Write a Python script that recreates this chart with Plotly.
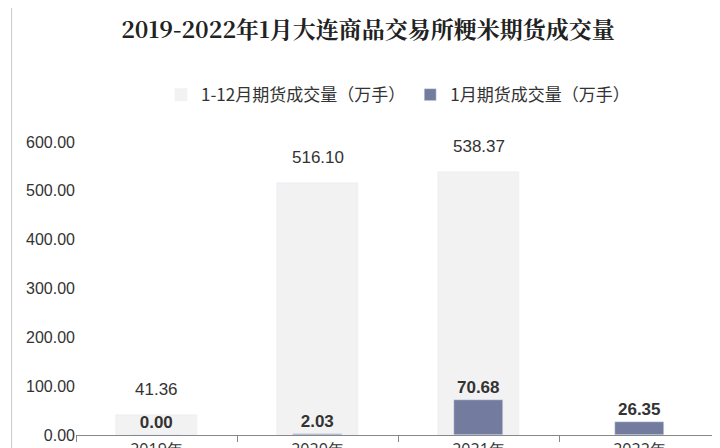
import plotly.graph_objects as go

cats = ["2019年", "2020年", "2021年", "2022年"]
total = [41.36, 516.10, 538.37, None]
jan = [0.00, 2.03, 70.68, 26.35]
total_lbl = ["41.36", "516.10", "538.37", ""]
jan_lbl = ["0.00", "2.03", "70.68", "26.35"]

numfont = "Liberation Sans Narrow, Arial"
fig = go.Figure()
fig.add_bar(x=cats, y=total, name="1-12月期货成交量（万手）", width=0.5,
            marker_color="#f2f2f2", cliponaxis=False)
fig.add_bar(x=cats, y=jan, name="1月期货成交量（万手）", width=0.3,
            marker_color="#737c9e", text=["<b>%s</b>" % t for t in jan_lbl],
            textposition="outside",
            textfont=dict(size=17, color="#333", family=numfont),
            cliponaxis=False)
for c, v, t in zip(cats, total, total_lbl):
    if v is not None:
        fig.add_annotation(x=c, y=v, text=t, showarrow=False, yanchor="bottom", yshift=14,
                           font=dict(size=17, color="#333", family=numfont))
fig.update_layout(
    width=720, height=448, barmode="overlay", paper_bgcolor="white", plot_bgcolor="white",
    margin=dict(l=68, r=8, t=134, b=21, autoexpand=False),
    title=dict(text="<b>2019-2022年1月大连商品交易所粳米期货成交量</b>", x=0.5, y=0.95,
               xanchor="center", yanchor="middle",
               font=dict(size=23, color="#222", family="Noto Serif CJK SC, Noto Sans CJK SC")),
    legend=dict(orientation="h", x=0.5, xanchor="center", y=1.16, yanchor="middle",
                font=dict(size=17, color="#333", family="Noto Sans CJK SC"), itemwidth=30),
    showlegend=True,
    bargap=0,
)
fig.update_xaxes(showline=True, linecolor="#888", ticks="outside", tickcolor="#888",
                 tickfont=dict(size=16, color="#333"), tickson="boundaries", ticklen=6)
fig.update_yaxes(range=[0, 600], dtick=100, tickformat=".2f", showgrid=False,
                 showline=False, tickfont=dict(size=16, color="#333", family=numfont))
fig.add_shape(type="rect", xref="paper", yref="paper", x0=-0.1, x1=1.02, y0=-0.1, y1=1.6,
              line=dict(color="#ccc", width=1), layer="below")
fig.write_html("out.html")
